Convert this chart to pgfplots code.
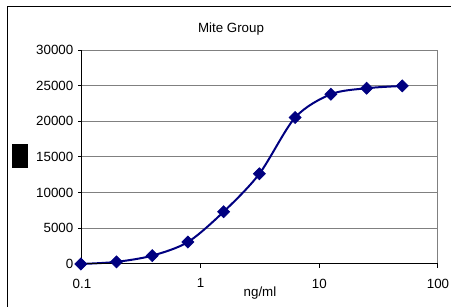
\documentclass[border=0pt]{standalone}
\usepackage{fontspec}
\setmainfont{Liberation Sans}
\usepackage{pgfplots}
\pgfplotsset{compat=1.18}
\definecolor{navy}{RGB}{0,0,128}
\definecolor{gridgray}{RGB}{128,128,128}
\begin{document}
\fontsize{10pt}{12pt}\selectfont
\begin{tikzpicture}
\useasboundingbox (-61.5pt,-32.25pt) rectangle (276.75pt,198pt);
\draw[line width=0.75pt] (-55.5pt,-32.25pt) -- (-55.5pt,192.75pt) -- (276.75pt,192.75pt);
\begin{axis}[
  at={(0pt,0pt)}, anchor=south west,
  scale only axis, width=267pt, height=160.5pt,
  xmode=log, xmin=0.1, xmax=100, ymin=0, ymax=30000,
  xtick={0.1,1,10,100}, xticklabels={0.1,1,10,100},
  xminorticks=false,
  ytick={0,5000,10000,15000,20000,25000,30000},
  /pgf/number format/assume math mode=true,
  /pgf/number format/set thousands separator={},
  scaled y ticks=false,
  ymajorgrids, grid style={gridgray, line width=0.75pt},
  axis line style={gridgray, line width=0.75pt},
  tick align=outside, major tick length=3pt,
  tick style={black, line width=0.75pt},
  tick pos=left,
  clip=false,
  tick label style={font=\fontsize{10pt}{12pt}\selectfont},
  xticklabel style={yshift=-4.5pt},
]
\addplot[navy, line width=1.5pt, smooth, mark=square*, mark size=3.2pt,
  mark options={rotate=45, fill=navy, line width=0.5pt}] coordinates {
  (0.09765625,0) (0.1953125,300) (0.390625,1170) (0.78125,3080) (1.5625,7330)
  (3.125,12650) (6.25,20530) (12.5,23800) (25,24640) (50,24960)
};
\draw[black, line width=0.75pt] (rel axis cs:0,1) -- (rel axis cs:0,0) -- (rel axis cs:1,0);
\end{axis}
\node at (111.75pt,176pt) {Mite Group};
\node at (133.5pt,-21.75pt) {ng/ml};
\fill[black] (-52.5pt,72pt) rectangle (-40.5pt,90pt);
\end{tikzpicture}
\end{document}
